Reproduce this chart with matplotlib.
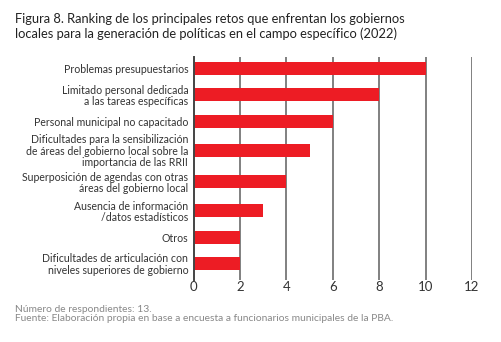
import matplotlib
matplotlib.use("Agg")
import matplotlib.pyplot as plt
import numpy as np

categories = [
    "Problemas presupuestarios",
    "Limitado personal dedicada\na las tareas específicas",
    "Personal municipal no capacitado",
    "Dificultades para la sensibilización\nde áreas del gobierno local sobre la\nimportancia de las RRII",
    "Superposición de agendas con otras\náreas del gobierno local",
    "Ausencia de información\n/datos estadísticos",
    "Otros",
    "Dificultades de articulación con\nniveles superiores de gobierno",
]
values = [10, 8, 6, 5, 4, 3, 2, 2]
xticks = [0, 2, 4, 6, 8, 10, 12]

title = ("Figura 8. Ranking de los principales retos que enfrentan los gobiernos\n"
         "locales para la generación de políticas en el campo específico (2022)")
notes = ("Número de respondientes: 13.\n"
         "Fuente: Elaboración propia en base a encuesta a funcionarios municipales de la PBA.")

plt.rcParams['font.family'] = ['Lato', 'DejaVu Sans']

# category positions: spacing grows with the number of label lines
nlines = [c.count("\n") + 1 for c in categories]
y = [0.0]
for a, b in zip(nlines[:-1], nlines[1:]):
    y.append(y[-1] + 1 + 0.1 * max(0, a + b - 3))
y = np.array(y)

W, H = 501, 342
fig = plt.figure(figsize=(W / 100, H / 100), dpi=100)
ax = fig.add_axes([193.7 / W, 1 - 280 / H, (472 - 193.7) / W, (280 - 57) / H])

unit = (263.5 - 68.5) / (y[-1] - y[0])
ax.set_xlim(0, 12)
ax.set_ylim(y[-1] + 16.5 / unit, y[0] - 11.5 / unit)

for xv in xticks[1:]:
    ax.axvline(xv, color="#808080", lw=1.4, zorder=1)

ax.barh(y, values, height=13 / unit, color="#ED1C24", zorder=2)

for s in ["top", "right", "bottom"]:
    ax.spines[s].set_visible(False)
ax.spines["left"].set_color("#444444")
ax.spines["left"].set_linewidth(1.4)
ax.spines["left"].set_zorder(3)

ax.set_xticks(xticks)
ax.set_xticklabels([str(t) for t in xticks])
ax.tick_params(axis="x", length=0, pad=1, labelsize=9.5, labelcolor="#333333")
ax.set_yticks(y)
ax.set_yticklabels(categories, fontsize=7.6, color="#333333", linespacing=1.05)
ax.tick_params(axis="y", length=0, pad=4)

fig.text(15 / W, 1 - 13 / H, title, ha="left", va="top", fontsize=9.3,
         color="#222222", linespacing=1.2)
fig.text(15 / W, 1 - 305 / H, notes, ha="left", va="top", fontsize=7.4,
         color="#888888", linespacing=1.05)

fig.savefig("out.png", dpi=100)
